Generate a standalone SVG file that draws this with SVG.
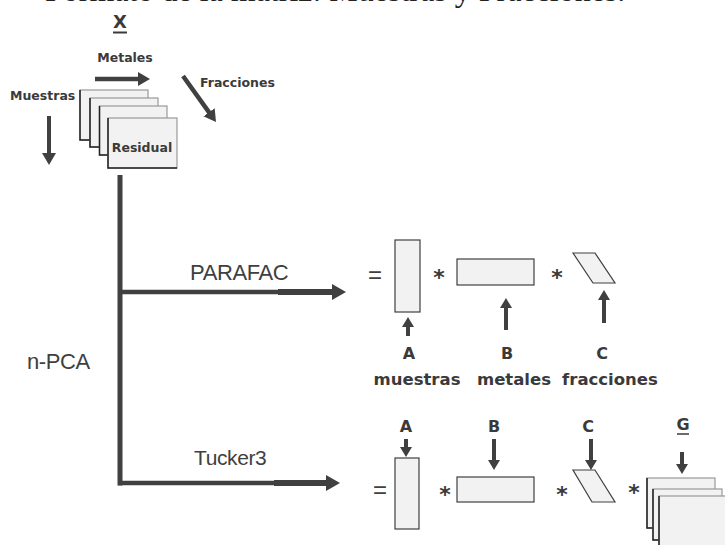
<svg xmlns="http://www.w3.org/2000/svg" width="725" height="545" viewBox="0 0 725 545">
<defs>
<style>
.hb{font-family:"DejaVu Sans",Verdana,sans-serif;font-weight:bold;fill:#3a3a3a}
.ar{font-family:"Liberation Sans",Arial,sans-serif;fill:#404040}
.ttl{font-family:"Liberation Serif","Times New Roman",serif;fill:#222}
.ln{stroke:#404040;fill:none}
.box{fill:#f2f2f2;stroke:#404040;stroke-width:1.2}
.sh{fill:#f2f2f2;stroke:#999;stroke-width:1.2}
.shd{fill:none;stroke:#222;stroke-width:1.5}
.ast{font-family:"DejaVu Sans",Verdana,sans-serif;font-weight:bold;fill:#3a3a3a;font-size:22px;text-anchor:middle}
</style>
<marker id="big" markerUnits="userSpaceOnUse" markerWidth="14" markerHeight="16" refX="1" refY="8" orient="auto"><path d="M0,0 L14,8 L0,16 z" fill="#404040"/></marker>
<marker id="med" markerUnits="userSpaceOnUse" markerWidth="12" markerHeight="14" refX="1" refY="7" orient="auto"><path d="M0,0 L12,7 L0,14 z" fill="#404040"/></marker>
<marker id="sm" markerUnits="userSpaceOnUse" markerWidth="10" markerHeight="12" refX="1" refY="6" orient="auto"><path d="M0,0 L10,6 L0,12 z" fill="#404040"/></marker>
</defs>
<rect width="725" height="545" fill="#fff"/>

<g id="title">
<text class="ttl" x="45" y="0.5" font-size="32">Formato de la matriz: Muestras y Fracciones.</text>
</g>

<g id="tensor-X">
<text class="hb" x="120" y="28" font-size="18" text-anchor="middle">X</text>
<line x1="113" y1="32.5" x2="127" y2="32.5" stroke="#3a3a3a" stroke-width="2"/>
<text class="hb" x="125" y="62" font-size="12.5" text-anchor="middle">Metales</text>
<text class="hb" x="200" y="87" font-size="12.5">Fracciones</text>
<text class="hb" x="10" y="100" font-size="12.5">Muestras</text>
<line class="ln" x1="95" y1="79" x2="139" y2="79" stroke-width="4.5" marker-end="url(#med)"/>
<line class="ln" x1="183" y1="76" x2="209.6" y2="113.1" stroke-width="4.5" marker-end="url(#med)"/>
<line class="ln" x1="49" y1="116" x2="49" y2="154" stroke-width="4" marker-end="url(#med)"/>
<rect class="sh" x="80" y="90" width="68" height="50"/><path class="shd" d="M80,90 V140 H148"/>
<rect class="sh" x="90" y="98" width="68" height="49"/><path class="shd" d="M90,98 V147 H158"/>
<rect class="sh" x="99.5" y="106" width="67.5" height="49"/><path class="shd" d="M99.5,106 V155 H167"/>
<rect class="sh" x="108" y="118" width="69" height="50"/><path class="shd" d="M108,118 V168 H177"/>
<text class="hb" x="142" y="152" font-size="12.5" text-anchor="middle" fill="#444">Residual</text>
</g>

<g id="connectors">
<line class="ln" x1="120" y1="175" x2="120" y2="485.5" stroke-width="5"/>
<line class="ln" x1="118" y1="292" x2="280" y2="292" stroke-width="4.5"/>
<line class="ln" x1="278" y1="292" x2="333" y2="292" stroke-width="6" marker-end="url(#big)"/>
<line class="ln" x1="118" y1="483" x2="276" y2="483" stroke-width="4.5"/>
<line class="ln" x1="274" y1="483" x2="327" y2="483" stroke-width="6" marker-end="url(#big)"/>
</g>

<g id="n-PCA">
<text class="ar" x="27" y="369" font-size="22" letter-spacing="-0.4">n-PCA</text>
</g>

<g id="parafac">
<text class="ar" x="190" y="280" font-size="22" letter-spacing="-0.4">PARAFAC</text>
<text class="ar" x="368" y="283" font-size="24">=</text>
<rect class="box" x="395" y="240" width="25" height="72"/>
<text class="ast" x="439" y="285">*</text>
<rect class="box" x="457" y="259" width="77" height="26"/>
<text class="ast" x="557" y="285">*</text>
<polygon class="box" points="573,253 595,253 615,283 593,283"/>
<line class="ln" x1="408" y1="336" x2="408" y2="326" stroke-width="4" marker-end="url(#sm)"/>
<line class="ln" x1="506" y1="330" x2="506" y2="307" stroke-width="4" marker-end="url(#sm)"/>
<line class="ln" x1="604" y1="323" x2="604" y2="299" stroke-width="4" marker-end="url(#sm)"/>
<text class="hb" x="409" y="359" font-size="16" text-anchor="middle">A</text>
<text class="hb" x="507" y="359" font-size="16" text-anchor="middle">B</text>
<text class="hb" x="602" y="359" font-size="16" text-anchor="middle">C</text>
<text class="hb" x="417" y="385" font-size="16.5" text-anchor="middle">muestras</text>
<text class="hb" x="514" y="385" font-size="16.5" text-anchor="middle">metales</text>
<text class="hb" x="610" y="385" font-size="16.5" text-anchor="middle">fracciones</text>
</g>

<g id="tucker3">
<text class="ar" x="194" y="465" font-size="21" letter-spacing="-0.4">Tucker3</text>
<text class="ar" x="373" y="498" font-size="24">=</text>
<rect class="box" x="395" y="458" width="24" height="71"/>
<text class="ast" x="445" y="502">*</text>
<rect class="box" x="457" y="477" width="77" height="25"/>
<text class="ast" x="562" y="502">*</text>
<polygon class="box" points="573,470 595,470 615,502 592,502"/>
<text class="ast" x="634" y="500">*</text>
<rect class="sh" x="647" y="478" width="68" height="50"/><path class="shd" d="M647,478 V528 H715"/>
<rect class="sh" x="653" y="489" width="69" height="51"/><path class="shd" d="M653,489 V540 H722"/>
<rect class="sh" x="659" y="496" width="75" height="60"/><path class="shd" d="M659,496 V556"/>
<text class="hb" x="406" y="432" font-size="16" text-anchor="middle">A</text>
<text class="hb" x="494" y="432" font-size="16" text-anchor="middle">B</text>
<text class="hb" x="588" y="432" font-size="16" text-anchor="middle">C</text>
<text class="hb" x="683" y="430" font-size="16" text-anchor="middle">G</text>
<line x1="677" y1="434" x2="689" y2="434" stroke="#3a3a3a" stroke-width="1.5"/>
<line class="ln" x1="406" y1="439" x2="406" y2="448" stroke-width="4" marker-end="url(#sm)"/>
<line class="ln" x1="494" y1="439" x2="494" y2="461" stroke-width="4" marker-end="url(#sm)"/>
<line class="ln" x1="591" y1="439" x2="591" y2="461" stroke-width="4" marker-end="url(#sm)"/>
<line class="ln" x1="682" y1="452" x2="682" y2="465" stroke-width="4" marker-end="url(#sm)"/>
</g>
</svg>
